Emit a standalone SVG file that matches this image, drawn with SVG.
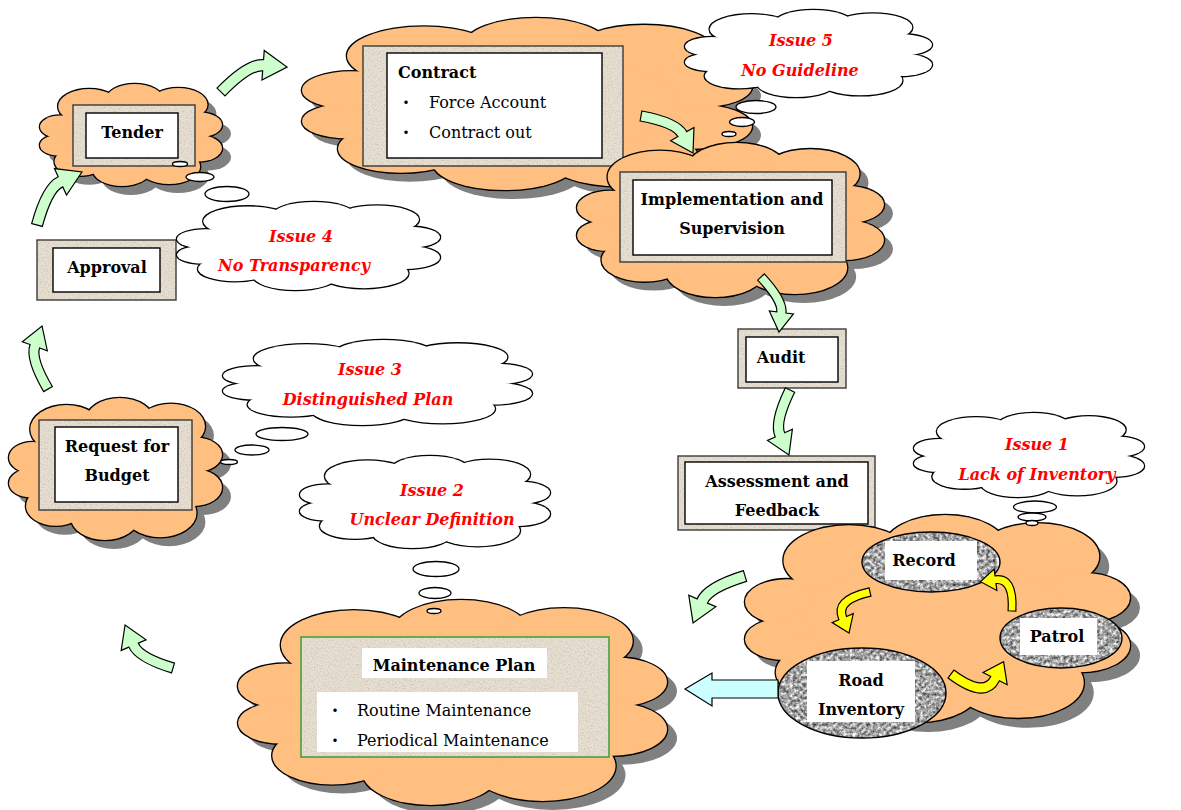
<svg xmlns="http://www.w3.org/2000/svg" xmlns:xlink="http://www.w3.org/1999/xlink" width="1181" height="810" viewBox="0 0 1181 810">
<style>
  .sh{fill:#808080}
  .cl-edge{fill:#FFBF80;stroke:#000;stroke-width:2.6}
  .cl-face{fill:#FFBF80}
  .th-edge{fill:#fff;stroke:#000;stroke-width:2.6}
  .th-face{fill:#fff}
  .bub{fill:#fff;stroke:#000;stroke-width:1.3}
  .paper{fill:#E6DFD2}
  .speck{fill:#000}
  .rim{fill:none;stroke:#3a3a3a;stroke-width:1.4}
  .rim-g{fill:none;stroke:#2F9A2F;stroke-width:1.4}
  .card{fill:#fff;stroke:#000;stroke-width:1.4}
  .plain{fill:#fff}
  .stone{fill:#000}
  .stone-rim{fill:none;stroke:#000;stroke-width:1.4}
  text{font-family:"DejaVu Serif","Liberation Serif",serif;font-size:16px;fill:#000}
  .b{font-weight:bold;text-anchor:middle}
  .bl{font-weight:bold}
  .iss{font-weight:bold;font-style:italic;fill:#FF0000;text-anchor:middle}
  .dot{font-family:"Noto Sans CJK JP",sans-serif}
  .flow{fill:#CCFFCC;stroke:#000;stroke-width:1.2}
  .cycle{fill:#FFFF00;stroke:#000;stroke-width:1.2}
  .out{fill:#CCFFFF;stroke:#000;stroke-width:1.2}
</style>
<defs>
  <!-- cloud outline built from overlapping lobes in a 100x100 box -->
  <g id="cloud">
    <circle vector-effect="non-scaling-stroke" cx="11" cy="42" r="11"/>
    <circle vector-effect="non-scaling-stroke" cx="27" cy="22" r="17"/>
    <circle vector-effect="non-scaling-stroke" cx="52" cy="16" r="16"/>
    <circle vector-effect="non-scaling-stroke" cx="76" cy="20" r="16"/>
    <circle vector-effect="non-scaling-stroke" cx="88" cy="40" r="12"/>
    <circle vector-effect="non-scaling-stroke" cx="87" cy="63" r="13"/>
    <circle vector-effect="non-scaling-stroke" cx="71" cy="81" r="17"/>
    <circle vector-effect="non-scaling-stroke" cx="45" cy="84" r="16"/>
    <circle vector-effect="non-scaling-stroke" cx="22" cy="76" r="14"/>
    <circle vector-effect="non-scaling-stroke" cx="10" cy="60" r="10"/>
    <circle vector-effect="non-scaling-stroke" cx="20" cy="52" r="8"/>
    <ellipse vector-effect="non-scaling-stroke" cx="50" cy="50" rx="34" ry="28"/>
  </g>
  <!-- gently bent block arrow, tail at 0,0 and tip at 100,0 -->
  <path id="bend" vector-effect="non-scaling-stroke" d="M-3.4,-7.2 Q50,-32.1 72.6,-21.6 L78.1,-33.4 L100,0 L60.3,4.6 L65.8,-7.2 Q50,-14.5 3.4,7.2 Z"/>
  <!-- strongly curled block arrow, tail at 0,0 and tip at 100,0 -->
  <path id="curl" vector-effect="non-scaling-stroke" d="M-6.9,-5.8 Q50,-74 84.5,-32.8 L96.8,-43 L100,0 L58.4,-11 L70.7,-21.2 Q50,-46 6.9,5.8 Z"/>
  <filter id="speckle" x="0" y="0" width="1" height="1" color-interpolation-filters="sRGB">
    <feTurbulence type="fractalNoise" baseFrequency="0.7" numOctaves="2" seed="7"/>
    <feColorMatrix type="matrix" values="0 0 0 0 0.6  0 0 0 0 0.55  0 0 0 0 0.48  0.9 0 0 0 -0.42"/>
    <feComposite in2="SourceAlpha" operator="in"/>
  </filter>
  <filter id="granite" x="0" y="0" width="1" height="1" color-interpolation-filters="sRGB">
    <feTurbulence type="fractalNoise" baseFrequency="0.3" numOctaves="3" seed="11"/>
    <feColorMatrix type="matrix" values="1.2 0 0 0 0.05  1.2 0 0 0 0.05  1.2 0 0 0 0.05  0 0 0 0 1"/>
    <feComposite in2="SourceAlpha" operator="in"/>
  </filter>
</defs>

<rect width="1181" height="810" fill="#fff"/>

<!-- Tender -->
<g id="tender">
  <use xlink:href="#cloud" class="sh" transform="translate(49,93) scale(1.82,1.02)"/>
  <use xlink:href="#cloud" class="cl-edge" transform="translate(40,84) scale(1.82,1.02)"/>
  <use xlink:href="#cloud" class="cl-face" transform="translate(40,84) scale(1.82,1.02)"/>
  <rect class="paper" x="73" y="105" width="122" height="61"/>
  <rect class="speck" filter="url(#speckle)" x="73" y="105" width="122" height="61"/>
  <rect class="rim" x="73" y="105" width="122" height="61"/>
  <rect class="card" x="86" y="113" width="92" height="45"/>
  <text class="b" x="132" y="138">Tender</text>
</g>

<!-- Approval -->
<g id="approval">
  <rect class="paper" x="37" y="240" width="139" height="60"/>
  <rect class="speck" filter="url(#speckle)" x="37" y="240" width="139" height="60"/>
  <rect class="rim" x="37" y="240" width="139" height="60"/>
  <rect class="card" x="53" y="248" width="107" height="44"/>
  <text class="b" x="107" y="273">Approval</text>
</g>

<!-- Issue 4 -->
<g id="issue4">
  <use xlink:href="#cloud" class="th-edge" transform="translate(177,202) scale(2.63,0.88)"/>
  <use xlink:href="#cloud" class="th-face" transform="translate(177,202) scale(2.63,0.88)"/>
  <ellipse class="bub" cx="227" cy="194" rx="22" ry="7.5"/>
  <ellipse class="bub" cx="200" cy="177" rx="14" ry="4.5"/>
  <ellipse class="bub" cx="180" cy="164" rx="7.5" ry="2.5"/>
  <text class="iss" x="301" y="242">Issue 4</text>
  <text class="iss" x="294" y="271">No Transparency</text>
</g>

<!-- Request for Budget -->
<g id="request">
  <use xlink:href="#cloud" class="sh" transform="translate(18,407) scale(2.13,1.42)"/>
  <use xlink:href="#cloud" class="cl-edge" transform="translate(9,398) scale(2.13,1.42)"/>
  <use xlink:href="#cloud" class="cl-face" transform="translate(9,398) scale(2.13,1.42)"/>
  <rect class="paper" x="39" y="420" width="153" height="90"/>
  <rect class="speck" filter="url(#speckle)" x="39" y="420" width="153" height="90"/>
  <rect class="rim" x="39" y="420" width="153" height="90"/>
  <rect class="card" x="55" y="427" width="123" height="75"/>
  <text class="b" x="117" y="452">Request for</text>
  <text class="b" x="117" y="481">Budget</text>
</g>

<!-- Issue 3 -->
<g id="issue3">
  <use xlink:href="#cloud" class="th-edge" transform="translate(223,340) scale(3.09,0.85)"/>
  <use xlink:href="#cloud" class="th-face" transform="translate(223,340) scale(3.09,0.85)"/>
  <ellipse class="bub" cx="282" cy="434" rx="26" ry="6.5"/>
  <ellipse class="bub" cx="252" cy="450" rx="17" ry="5"/>
  <ellipse class="bub" cx="229" cy="462" rx="8.5" ry="2.5"/>
  <text class="iss" x="370" y="375">Issue 3</text>
  <text class="iss" x="368" y="405">Distinguished Plan</text>
</g>

<!-- Maintenance Plan -->
<g id="maintenance">
  <use xlink:href="#cloud" class="sh" transform="translate(248,609) scale(4.29,2.05)"/>
  <use xlink:href="#cloud" class="cl-edge" transform="translate(238,600) scale(4.29,2.05)"/>
  <use xlink:href="#cloud" class="cl-face" transform="translate(238,600) scale(4.29,2.05)"/>
  <rect class="paper" x="301" y="637" width="308" height="120"/>
  <rect class="speck" filter="url(#speckle)" x="301" y="637" width="308" height="120"/>
  <rect class="rim-g" x="301" y="637" width="308" height="120"/>
  <rect class="plain" x="362" y="648" width="185" height="30"/>
  <rect class="plain" x="317" y="692" width="261" height="60"/>
  <text class="b" x="454" y="671">Maintenance Plan</text>
  <text class="dot" x="327" y="716">・</text>
  <text x="357" y="716">Routine Maintenance</text>
  <text class="dot" x="327" y="746">・</text>
  <text x="357" y="746">Periodical Maintenance</text>
</g>

<!-- Issue 2 -->
<g id="issue2">
  <use xlink:href="#cloud" class="th-edge" transform="translate(300,456) scale(2.5,0.92)"/>
  <use xlink:href="#cloud" class="th-face" transform="translate(300,456) scale(2.5,0.92)"/>
  <ellipse class="bub" cx="436" cy="569" rx="23" ry="7.5"/>
  <ellipse class="bub" cx="435" cy="593" rx="16" ry="5.5"/>
  <ellipse class="bub" cx="434" cy="611" rx="7" ry="2.5"/>
  <text class="iss" x="432" y="496">Issue 2</text>
  <text class="iss" x="432" y="525">Unclear Definition</text>
</g>

<!-- Contract -->
<g id="contract">
  <use xlink:href="#cloud" class="sh" transform="translate(311,27) scale(4.5,1.72)"/>
  <use xlink:href="#cloud" class="cl-edge" transform="translate(302,18) scale(4.5,1.72)"/>
  <use xlink:href="#cloud" class="cl-face" transform="translate(302,18) scale(4.5,1.72)"/>
  <rect class="paper" x="363" y="46" width="260" height="120"/>
  <rect class="speck" filter="url(#speckle)" x="363" y="46" width="260" height="120"/>
  <rect class="rim" x="363" y="46" width="260" height="120"/>
  <rect class="card" x="387" y="53" width="215" height="105"/>
  <text class="bl" x="398" y="78">Contract</text>
  <text class="dot" x="398" y="108">・</text>
  <text x="429" y="108">Force Account</text>
  <text class="dot" x="398" y="138">・</text>
  <text x="429" y="138">Contract out</text>
</g>

<!-- Implementation and Supervision -->
<g id="implementation">
  <use xlink:href="#cloud" class="sh" transform="translate(586,152) scale(3.07,1.54)"/>
  <use xlink:href="#cloud" class="cl-edge" transform="translate(577,143) scale(3.07,1.54)"/>
  <use xlink:href="#cloud" class="cl-face" transform="translate(577,143) scale(3.07,1.54)"/>
  <rect class="paper" x="620" y="172" width="226" height="90"/>
  <rect class="speck" filter="url(#speckle)" x="620" y="172" width="226" height="90"/>
  <rect class="rim" x="620" y="172" width="226" height="90"/>
  <rect class="card" x="633" y="180" width="199" height="75"/>
  <text class="b" x="732" y="205">Implementation and</text>
  <text class="b" x="732" y="234">Supervision</text>
</g>

<!-- Issue 5 -->
<g id="issue5">
  <use xlink:href="#cloud" class="th-edge" transform="translate(685,10) scale(2.47,0.87)"/>
  <use xlink:href="#cloud" class="th-face" transform="translate(685,10) scale(2.47,0.87)"/>
  <ellipse class="bub" cx="756" cy="107" rx="20" ry="6.5"/>
  <ellipse class="bub" cx="742" cy="122" rx="12.5" ry="4.5"/>
  <ellipse class="bub" cx="729" cy="134" rx="7" ry="2.5"/>
  <text class="iss" x="801" y="46">Issue 5</text>
  <text class="iss" x="800" y="76">No Guideline</text>
</g>

<!-- Audit -->
<g id="audit">
  <rect class="paper" x="738" y="329" width="108" height="59"/>
  <rect class="speck" filter="url(#speckle)" x="738" y="329" width="108" height="59"/>
  <rect class="rim" x="738" y="329" width="108" height="59"/>
  <rect class="card" x="746" y="337" width="92" height="45"/>
  <text class="b" x="781" y="363">Audit</text>
</g>

<!-- Assessment and Feedback -->
<g id="assessment">
  <rect class="paper" x="678" y="456" width="197" height="74"/>
  <rect class="speck" filter="url(#speckle)" x="678" y="456" width="197" height="74"/>
  <rect class="rim" x="678" y="456" width="197" height="74"/>
  <rect class="card" x="685" y="462" width="183" height="62"/>
  <text class="b" x="777" y="487">Assessment and</text>
  <text class="b" x="777" y="516">Feedback</text>
</g>

<!-- Road inventory cycle -->
<g id="inventory-cycle">
  <use xlink:href="#cloud" class="sh" transform="translate(755,525) scale(3.85,2.07)"/>
  <use xlink:href="#cloud" class="cl-edge" transform="translate(745,515) scale(3.85,2.07)"/>
  <use xlink:href="#cloud" class="cl-face" transform="translate(745,515) scale(3.85,2.07)"/>
</g>

<g id="record">
  <ellipse class="stone" filter="url(#granite)" cx="931" cy="562" rx="69" ry="30"/>
  <ellipse class="stone-rim" cx="931" cy="562" rx="69" ry="30"/>
  <rect class="plain" x="885" y="541" width="92" height="39"/>
  <text class="b" x="924" y="566">Record</text>
</g>

<g id="patrol">
  <ellipse class="stone" filter="url(#granite)" cx="1061" cy="638" rx="61" ry="30"/>
  <ellipse class="stone-rim" cx="1061" cy="638" rx="61" ry="30"/>
  <rect class="plain" x="1020" y="618" width="77" height="37"/>
  <text class="b" x="1057" y="642">Patrol</text>
</g>

<g id="road-inventory">
  <ellipse class="stone" filter="url(#granite)" cx="862" cy="693" rx="84" ry="45"/>
  <ellipse class="stone-rim" cx="862" cy="693" rx="84" ry="45"/>
  <rect class="plain" x="807" y="661" width="108" height="61"/>
  <text class="b" x="861" y="686">Road</text>
  <text class="b" x="861" y="715">Inventory</text>
</g>

<!-- Issue 1 -->
<g id="issue1">
  <use xlink:href="#cloud" class="th-edge" transform="translate(914,413) scale(2.3,0.84)"/>
  <use xlink:href="#cloud" class="th-face" transform="translate(914,413) scale(2.3,0.84)"/>
  <ellipse class="bub" cx="1035" cy="507" rx="21.5" ry="6"/>
  <ellipse class="bub" cx="1032" cy="517" rx="14" ry="4"/>
  <ellipse class="bub" cx="1032" cy="523" rx="6" ry="2.5"/>
  <text class="iss" x="1037" y="450">Issue 1</text>
  <text class="iss" x="1037" y="480">Lack of Inventory</text>
</g>

<!-- connectors -->
<g id="connectors">
  <use xlink:href="#bend" class="flow" transform="translate(37,225) rotate(-49.7) scale(0.695)"/>
  <use xlink:href="#bend" class="flow" transform="translate(221,92) rotate(-20.7) scale(0.706)"/>
  <use xlink:href="#bend" class="flow" transform="translate(641,116) rotate(35.4) scale(0.638)"/>
  <use xlink:href="#bend" class="flow" transform="translate(761,277) rotate(71.9) scale(0.579)"/>
  <use xlink:href="#bend" class="flow" transform="translate(790,390) rotate(90.9) scale(0.65,-0.65)"/>
  <use xlink:href="#bend" class="flow" transform="translate(745,576) rotate(137.9) scale(0.70,-0.70)"/>
  <use xlink:href="#bend" class="flow" transform="translate(173,668) rotate(-138.1) scale(0.644)"/>
  <use xlink:href="#bend" class="flow" transform="translate(48,389) rotate(-95.4) scale(0.633)"/>
  <use xlink:href="#curl" class="cycle" transform="translate(870,592) rotate(117.1) scale(0.46,-0.46)"/>
  <use xlink:href="#curl" class="cycle" transform="translate(1012,611) rotate(-137) scale(0.43,-0.43)"/>
  <use xlink:href="#curl" class="cycle" transform="translate(951,674) rotate(-13.2) scale(0.54,-0.54)"/>
  <path class="out" d="M778,680 L712,680 L712,673 L685,689 L712,706 L712,698 L778,698 Z"/>
</g>
</svg>
